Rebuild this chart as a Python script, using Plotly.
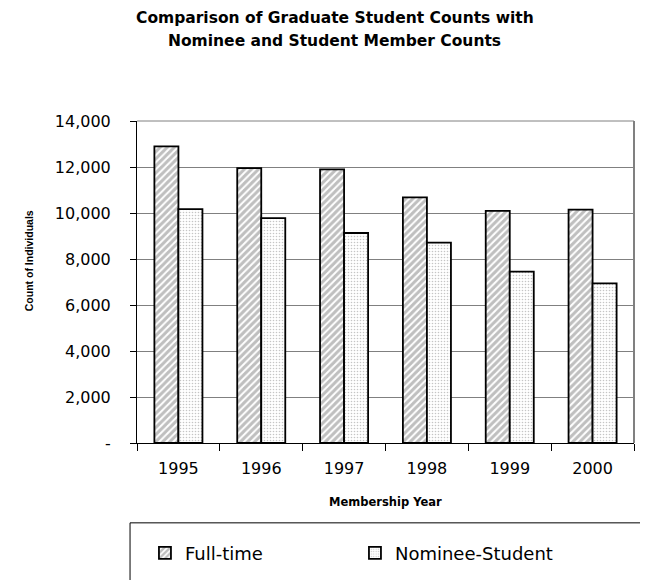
import plotly.graph_objects as go

years = ["1995", "1996", "1997", "1998", "1999", "2000"]
full_time = [12900, 11950, 11900, 10680, 10090, 10150]
nominee_student = [10170, 9780, 9130, 8710, 7450, 6940]
y_ticks = [0, 2000, 4000, 6000, 8000, 10000, 12000, 14000]
y_tick_labels = ["-", "2,000", "4,000", "6,000", "8,000", "10,000", "12,000", "14,000"]

wide_font = "DejaVu Sans, Verdana, sans-serif"
arial = "Liberation Sans, Arial, sans-serif"

fig = go.Figure()

fig.add_trace(go.Bar(
    x=years,
    y=full_time,
    name="Full-time",
    marker=dict(
        color="white",
        line=dict(color="black", width=1.8),
        pattern=dict(shape="/", fgcolor="#7f7f7f", bgcolor="white", size=5, solidity=0.6),
    ),
))

fig.add_trace(go.Bar(
    x=years,
    y=nominee_student,
    name="Nominee-Student",
    marker=dict(
        color="white",
        line=dict(color="black", width=1.8),
        pattern=dict(shape=".", fgcolor="#8c8c8c", bgcolor="white", size=3, solidity=0.22),
    ),
))

# box round the legend
fig.add_shape(type="rect", xref="paper", yref="paper",
              x0=-0.014, x1=1.1, y0=-0.248, y1=-0.6,
              line=dict(color="black", width=1), fillcolor="rgba(0,0,0,0)")

# gray frame on top and right
fig.add_shape(type="line", xref="paper", yref="paper", x0=0, x1=1, y0=1, y1=1,
              line=dict(color="#808080", width=1))
fig.add_shape(type="line", xref="paper", yref="paper", x0=1, x1=1, y0=0, y1=1,
              line=dict(color="#808080", width=2))

# titles
fig.add_annotation(text="<b>Comparison of Graduate Student Counts with</b>",
                   xref="paper", yref="paper", x=0.398, y=1.32,
                   xanchor="center", yanchor="middle", showarrow=False,
                   font=dict(family=wide_font, size=15.5))
fig.add_annotation(text="<b>Nominee and Student Member Counts</b>",
                   xref="paper", yref="paper", x=0.398, y=1.247,
                   xanchor="center", yanchor="middle", showarrow=False,
                   font=dict(family=wide_font, size=15.5))
fig.add_annotation(text="<b>Membership Year</b>",
                   xref="paper", yref="paper", x=0.499, y=-0.183,
                   xanchor="center", yanchor="middle", showarrow=False,
                   font=dict(family=wide_font, size=11.5))
fig.add_annotation(text="<b>Count of Individuals</b>",
                   xref="paper", yref="paper", x=-0.217, y=0.565, textangle=-90,
                   xanchor="center", yanchor="middle", showarrow=False,
                   font=dict(family=arial, size=10.5))

fig.update_layout(
    width=648,
    height=580,
    margin=dict(l=129, r=22, t=113, b=145, autoexpand=False),
    plot_bgcolor="white",
    paper_bgcolor="white",
    barmode="group",
    bargap=0.42,
    bargroupgap=0,
    font=dict(family=wide_font, color="black", size=16),
    xaxis=dict(
        showline=True, linecolor="black", linewidth=1,
        ticks="outside", tickson="boundaries", ticklen=7, tickcolor="black",
        tickfont=dict(size=16),
        ticklabelstandoff=11,
    ),
    yaxis=dict(
        range=[0, 14000],
        tickvals=y_ticks,
        ticktext=y_tick_labels,
        showgrid=True, gridcolor="#808080", gridwidth=1,
        showline=True, linecolor="black", linewidth=1,
        ticks="outside", ticklen=6, tickcolor="black",
        tickfont=dict(size=16),
        ticklabelstandoff=16,
        zeroline=False,
    ),
    legend=dict(
        orientation="h",
        x=0.016, y=-0.342, xanchor="left", yanchor="middle",
        font=dict(size=18),
        entrywidth=165, entrywidthmode="pixels",
        bgcolor="rgba(0,0,0,0)",
        traceorder="normal",
    ),
)

fig.write_html("out.html")
